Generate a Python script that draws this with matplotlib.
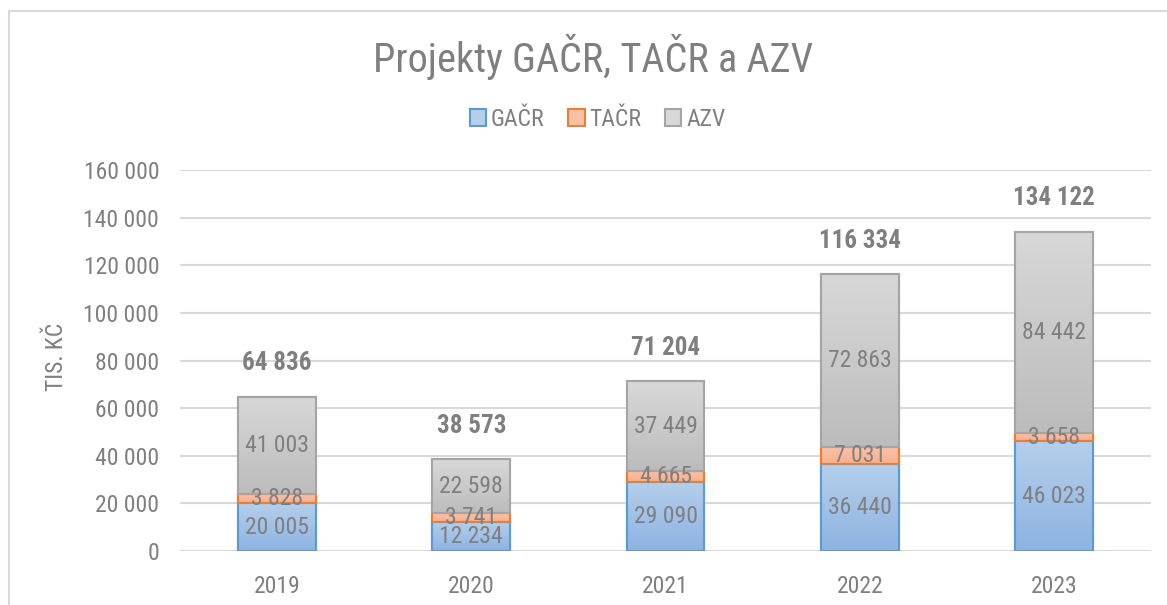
import matplotlib
matplotlib.use("Agg")
import matplotlib.pyplot as plt
import numpy as np
from matplotlib.patches import Patch, Rectangle
from matplotlib.colors import LinearSegmentedColormap
from matplotlib.ticker import FuncFormatter

years = ["2019", "2020", "2021", "2022", "2023"]
gacr = [20005, 12234, 29090, 36440, 46023]
tacr = [3828, 3741, 4665, 7031, 3658]
azv = [41003, 22598, 37449, 72863, 84442]
totals = [64836, 38573, 71204, 116334, 134122]
series_names = ["GAČR", "TAČR", "AZV"]

plt.rcParams['font.family'] = ['Roboto Condensed', 'DejaVu Sans']

TXT = "#7f7f7f"

def fmt(v):
    return f"{v:,}".replace(",", " ")

fig = plt.figure(figsize=(11.67, 6.05), dpi=100)
ax = fig.add_axes([180/1167, 1-551/605, (1151-180)/1167, (551-170)/605])

x = np.arange(len(years))
w = 0.4
styles = [
    dict(top="#b5cfeb", bot="#8db3e2", edge="#5b9bd5"),
    dict(top="#f9c2a8", bot="#f6b090", edge="#ed7d31"),
    dict(top="#d8d8d8", bot="#bcbcbc", edge="#a5a5a5"),
]
data = [gacr, tacr, azv]
bottom = np.zeros(len(years))
for vals, st in zip(data, styles):
    bars = ax.bar(x, vals, w, bottom=bottom, color=st["bot"], edgecolor=st["edge"], linewidth=1.5, zorder=2)
    cmap = LinearSegmentedColormap.from_list("g", [st["bot"], st["top"]])
    grad = np.linspace(0, 1, 256).reshape(-1, 1)
    for b in bars:
        x0, y0 = b.get_x(), b.get_y()
        bw, bh = b.get_width(), b.get_height()
        im = ax.imshow(grad, cmap=cmap, origin="lower", aspect="auto",
                       extent=[x0, x0 + bw, y0, y0 + bh], zorder=2.1)
        im.set_clip_path(b)
        ax.add_patch(Rectangle((x0, y0), bw, bh, fill=False, edgecolor=st["edge"], linewidth=1.5, zorder=2.2))
    for xi, b0, v in zip(x, bottom, vals):
        ax.text(xi, b0 + v/2, fmt(v), ha="center", va="center", fontsize=17, color=TXT, zorder=3)
    bottom = bottom + np.array(vals)

for xi, t in zip(x, totals):
    ax.text(xi, t + 9000, fmt(t), ha="center", va="bottom", fontsize=18, fontweight="bold", color=TXT, zorder=3)

ax.set_xlim(-0.5, len(years) - 0.5)
ax.set_ylim(0, 160000)
ax.set_yticks(np.arange(0, 160001, 20000))
ax.yaxis.set_major_formatter(FuncFormatter(lambda v, p: fmt(int(v))))
ax.set_xticks(x)
ax.set_xticklabels(years)
ax.tick_params(axis="both", length=0, labelsize=17, colors=TXT)
ax.tick_params(axis="y", pad=15)
ax.tick_params(axis="x", pad=17)
ax.grid(axis="y", color="#d9d9d9", linewidth=1.5, zorder=0)
ax.set_axisbelow(True)
for s in ax.spines.values():
    s.set_visible(False)
fig.text(57/1167, 1-357/605, "TIS. KČ", rotation=90, ha="center", va="center", fontsize=17, color=TXT)

fig.text(0.508, 1-57/605, "Projekty GAČR, TAČR a AZV", ha="center", va="center", fontsize=29, color=TXT)

handles = [Patch(facecolor=st["top"], edgecolor=st["edge"], linewidth=1.5) for st in styles]
fig.legend(handles, series_names, loc="center", bbox_to_anchor=(0.512, 1-119/605), ncol=3, frameon=False,
           fontsize=17, labelcolor=TXT, handlelength=0.7, handleheight=0.7, handletextpad=0.2, columnspacing=1.0)

fig.add_artist(Rectangle((8.5/1167, -0.1), 1.5, 1 - 10.5/605 + 0.1, transform=fig.transFigure,
                         fill=False, edgecolor="#d9d9d9", linewidth=1.5))

fig.savefig("out.png", dpi=100)
